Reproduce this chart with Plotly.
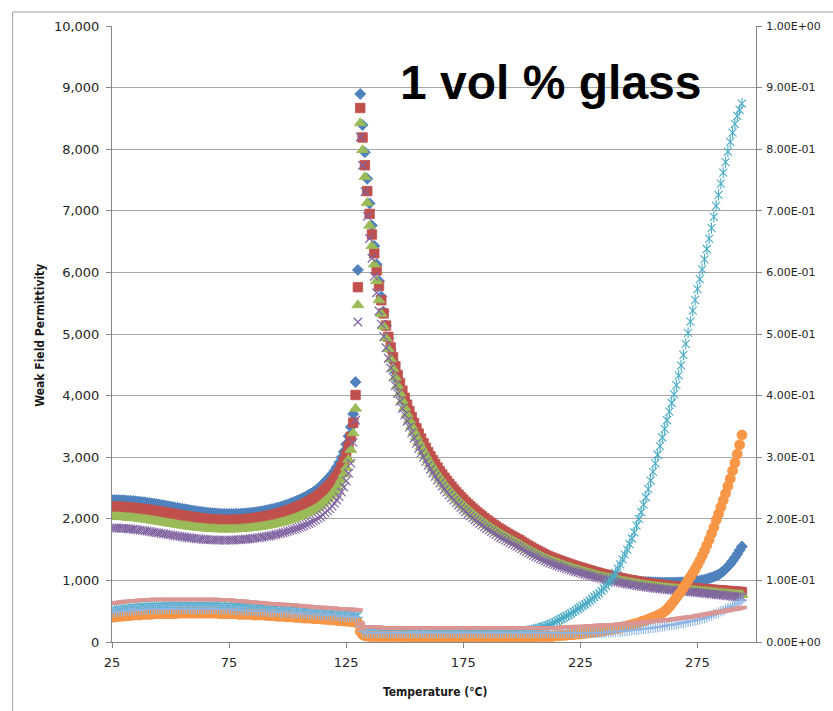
import plotly.graph_objects as go

# Measurement temperatures (deg C), one reading per degree
temperature_c = [
    25, 26, 27, 28, 29, 30, 31, 32, 33, 34,
    35, 36, 37, 38, 39, 40, 41, 42, 43, 44,
    45, 46, 47, 48, 49, 50, 51, 52, 53, 54,
    55, 56, 57, 58, 59, 60, 61, 62, 63, 64,
    65, 66, 67, 68, 69, 70, 71, 72, 73, 74,
    75, 76, 77, 78, 79, 80, 81, 82, 83, 84,
    85, 86, 87, 88, 89, 90, 91, 92, 93, 94,
    95, 96, 97, 98, 99, 100, 101, 102, 103, 104,
    105, 106, 107, 108, 109, 110, 111, 112, 113, 114,
    115, 116, 117, 118, 119, 120, 121, 122, 123, 124,
    125, 126, 127, 128, 129, 130, 131, 132, 133, 134,
    135, 136, 137, 138, 139, 140, 141, 142, 143, 144,
    145, 146, 147, 148, 149, 150, 151, 152, 153, 154,
    155, 156, 157, 158, 159, 160, 161, 162, 163, 164,
    165, 166, 167, 168, 169, 170, 171, 172, 173, 174,
    175, 176, 177, 178, 179, 180, 181, 182, 183, 184,
    185, 186, 187, 188, 189, 190, 191, 192, 193, 194,
    195, 196, 197, 198, 199, 200, 201, 202, 203, 204,
    205, 206, 207, 208, 209, 210, 211, 212, 213, 214,
    215, 216, 217, 218, 219, 220, 221, 222, 223, 224,
    225, 226, 227, 228, 229, 230, 231, 232, 233, 234,
    235, 236, 237, 238, 239, 240, 241, 242, 243, 244,
    245, 246, 247, 248, 249, 250, 251, 252, 253, 254,
    255, 256, 257, 258, 259, 260, 261, 262, 263, 264,
    265, 266, 267, 268, 269, 270, 271, 272, 273, 274,
    275, 276, 277, 278, 279, 280, 281, 282, 283, 284,
    285, 286, 287, 288, 289, 290, 291, 292, 293, 294,
]

# Weak field permittivity, four measurement frequencies (left axis)
perm_blue = [
    2305, 2305, 2304, 2303, 2302, 2300, 2297, 2294, 2291, 2288,
    2285, 2281, 2276, 2272, 2267, 2262, 2256, 2250, 2244, 2238,
    2232, 2225, 2218, 2211, 2205, 2198, 2191, 2184, 2177, 2170,
    2163, 2156, 2150, 2143, 2136, 2130, 2124, 2119, 2113, 2108,
    2103, 2099, 2095, 2091, 2088, 2085, 2083, 2081, 2080, 2079,
    2078, 2078, 2079, 2080, 2081, 2083, 2086, 2089, 2092, 2096,
    2100, 2105, 2111, 2117, 2123, 2130, 2138, 2146, 2155, 2164,
    2173, 2184, 2195, 2207, 2219, 2232, 2247, 2262, 2277, 2293,
    2310, 2328, 2347, 2367, 2388, 2410, 2434, 2460, 2490, 2523,
    2560, 2600, 2640, 2680, 2728, 2780, 2840, 2910, 2995, 3090,
    3210, 3340, 3490, 3700, 4220, 6040, 8896, 8393, 7950, 7520,
    7120, 6760, 6430, 6130, 5860, 5610, 5362, 5137, 4929, 4735,
    4554, 4385, 4247, 4119, 3997, 3884, 3776, 3674, 3577, 3485,
    3399, 3315, 3236, 3161, 3089, 3020, 2955, 2892, 2832, 2774,
    2719, 2666, 2614, 2565, 2518, 2472, 2427, 2384, 2343, 2304,
    2266, 2229, 2192, 2158, 2124, 2091, 2060, 2029, 1999, 1970,
    1941, 1915, 1887, 1862, 1837, 1812, 1789, 1765, 1742, 1721,
    1699, 1678, 1657, 1638, 1618, 1593, 1568, 1545, 1524, 1502,
    1482, 1462, 1443, 1423, 1404, 1386, 1367, 1352, 1338, 1323,
    1309, 1296, 1282, 1268, 1255, 1243, 1230, 1217, 1205, 1194,
    1182, 1170, 1159, 1149, 1138, 1127, 1116, 1105, 1096, 1086,
    1076, 1067, 1059, 1050, 1042, 1035, 1028, 1021, 1015, 1009,
    1004, 999, 995, 991, 987, 984, 981, 978, 976, 974,
    972, 970, 969, 968, 967, 966, 965, 965, 965, 965,
    966, 967, 968, 969, 971, 973, 975, 978, 981, 985,
    990, 996, 1003, 1012, 1022, 1034, 1047, 1061, 1077, 1094,
    1120, 1150, 1185, 1224, 1268, 1318, 1372, 1430, 1490, 1550,
]

perm_red = [
    2196, 2196, 2195, 2194, 2192, 2190, 2187, 2183, 2180, 2176,
    2172, 2167, 2163, 2158, 2153, 2148, 2142, 2136, 2130, 2124,
    2118, 2111, 2105, 2098, 2092, 2085, 2078, 2072, 2065, 2059,
    2052, 2046, 2040, 2034, 2028, 2022, 2017, 2012, 2007, 2002,
    1998, 1994, 1991, 1988, 1985, 1983, 1981, 1980, 1979, 1979,
    1979, 1980, 1981, 1982, 1984, 1986, 1989, 1992, 1996, 2000,
    2004, 2009, 2015, 2021, 2027, 2033, 2041, 2048, 2056, 2064,
    2073, 2083, 2094, 2104, 2116, 2128, 2142, 2156, 2170, 2185,
    2200, 2217, 2235, 2254, 2274, 2295, 2318, 2342, 2370, 2400,
    2435, 2470, 2507, 2545, 2590, 2640, 2697, 2760, 2840, 2930,
    3040, 3170, 3330, 3560, 4010, 5760, 8669, 8190, 7740, 7320,
    6950, 6615, 6310, 6032, 5779, 5548, 5335, 5137, 4954, 4783,
    4623, 4474, 4334, 4203, 4079, 3963, 3853, 3749, 3650, 3556,
    3468, 3383, 3302, 3226, 3152, 3082, 3015, 2951, 2890, 2831,
    2774, 2720, 2667, 2617, 2569, 2522, 2477, 2433, 2391, 2351,
    2312, 2274, 2237, 2202, 2167, 2134, 2102, 2070, 2040, 2010,
    1981, 1954, 1926, 1900, 1874, 1849, 1825, 1801, 1778, 1756,
    1734, 1712, 1691, 1671, 1651, 1625, 1600, 1577, 1555, 1533,
    1512, 1492, 1472, 1452, 1433, 1414, 1395, 1380, 1365, 1350,
    1336, 1322, 1308, 1294, 1281, 1268, 1255, 1242, 1230, 1218,
    1206, 1194, 1183, 1172, 1161, 1150, 1139, 1128, 1118, 1108,
    1098, 1089, 1080, 1071, 1062, 1053, 1045, 1037, 1029, 1021,
    1013, 1006, 999, 992, 985, 978, 972, 966, 960, 954,
    948, 943, 938, 933, 928, 924, 919, 915, 911, 907,
    903, 899, 895, 891, 887, 884, 880, 877, 873, 870,
    867, 864, 861, 858, 855, 852, 849, 846, 843, 840,
    837, 834, 831, 828, 825, 822, 819, 816, 813, 811,
]

perm_green = [
    2034, 2034, 2033, 2032, 2030, 2028, 2025, 2021, 2018, 2014,
    2010, 2005, 2000, 1995, 1990, 1985, 1979, 1973, 1967, 1961,
    1955, 1949, 1942, 1936, 1929, 1923, 1917, 1910, 1904, 1898,
    1892, 1886, 1881, 1875, 1870, 1865, 1861, 1857, 1853, 1849,
    1845, 1842, 1839, 1837, 1835, 1833, 1832, 1831, 1830, 1830,
    1830, 1831, 1832, 1833, 1835, 1837, 1840, 1843, 1847, 1851,
    1855, 1860, 1865, 1870, 1876, 1882, 1889, 1896, 1903, 1911,
    1920, 1929, 1939, 1949, 1960, 1972, 1985, 1998, 2011, 2025,
    2040, 2056, 2072, 2089, 2107, 2125, 2146, 2168, 2193, 2222,
    2255, 2288, 2322, 2360, 2402, 2450, 2505, 2565, 2640, 2725,
    2830, 2960, 3120, 3390, 3790, 5470, 8425, 7987, 7550, 7130,
    6760, 6430, 6130, 5860, 5548, 5326, 5122, 4932, 4756, 4592,
    4438, 4295, 4161, 4035, 3916, 3804, 3699, 3599, 3504, 3414,
    3329, 3248, 3170, 3097, 3026, 2959, 2894, 2833, 2774, 2718,
    2663, 2611, 2560, 2512, 2466, 2421, 2378, 2336, 2295, 2257,
    2220, 2183, 2148, 2114, 2080, 2049, 2018, 1987, 1958, 1930,
    1902, 1876, 1849, 1824, 1799, 1775, 1752, 1729, 1707, 1686,
    1665, 1644, 1623, 1604, 1585, 1560, 1536, 1514, 1493, 1472,
    1452, 1432, 1413, 1394, 1376, 1357, 1339, 1325, 1310, 1296,
    1283, 1269, 1256, 1242, 1230, 1217, 1205, 1192, 1181, 1169,
    1158, 1146, 1136, 1125, 1115, 1104, 1093, 1083, 1073, 1064,
    1054, 1045, 1037, 1028, 1020, 1011, 1003, 996, 988, 980,
    972, 966, 959, 952, 946, 939, 933, 927, 922, 916,
    910, 905, 900, 896, 891, 887, 882, 878, 875, 871,
    867, 863, 859, 855, 852, 849, 845, 841, 837, 834,
    830, 826, 823, 819, 815, 811, 807, 803, 800, 796,
    792, 789, 785, 782, 778, 775, 772, 769, 766, 764,
]

perm_purple = [
    1851, 1851, 1850, 1849, 1847, 1845, 1842, 1838, 1834, 1830,
    1826, 1821, 1816, 1811, 1806, 1800, 1794, 1788, 1782, 1776,
    1770, 1764, 1757, 1751, 1744, 1738, 1732, 1726, 1720, 1714,
    1708, 1702, 1697, 1692, 1687, 1682, 1678, 1674, 1670, 1667,
    1664, 1661, 1659, 1657, 1656, 1655, 1654, 1654, 1654, 1654,
    1654, 1655, 1656, 1658, 1660, 1662, 1665, 1668, 1672, 1676,
    1680, 1685, 1690, 1695, 1701, 1707, 1714, 1721, 1728, 1736,
    1745, 1754, 1763, 1773, 1784, 1795, 1807, 1819, 1832, 1846,
    1860, 1875, 1890, 1906, 1924, 1942, 1962, 1983, 2007, 2034,
    2065, 2096, 2129, 2165, 2205, 2250, 2302, 2360, 2432, 2515,
    2615, 2740, 2900, 3240, 3600, 5195, 8198, 7740, 7310, 6910,
    6550, 6230, 5935, 5670, 5374, 5160, 4962, 4777, 4607, 4448,
    4299, 4161, 4031, 3909, 3793, 3686, 3583, 3487, 3395, 3307,
    3225, 3146, 3071, 3000, 2931, 2866, 2804, 2744, 2688, 2633,
    2580, 2530, 2480, 2434, 2389, 2345, 2304, 2263, 2224, 2186,
    2150, 2115, 2080, 2048, 2015, 1985, 1955, 1925, 1897, 1869,
    1842, 1817, 1791, 1767, 1743, 1720, 1697, 1675, 1654, 1633,
    1613, 1592, 1573, 1554, 1535, 1511, 1488, 1467, 1446, 1426,
    1406, 1388, 1369, 1350, 1333, 1315, 1297, 1283, 1269, 1256,
    1242, 1229, 1216, 1203, 1191, 1179, 1167, 1155, 1144, 1133,
    1122, 1110, 1100, 1090, 1080, 1070, 1059, 1049, 1040, 1030,
    1021, 1013, 1004, 996, 988, 979, 972, 964, 957, 950,
    942, 936, 929, 923, 916, 910, 904, 898, 893, 887,
    882, 877, 872, 868, 863, 859, 855, 851, 847, 844,
    840, 836, 832, 829, 825, 822, 818, 815, 811, 807,
    803, 799, 795, 791, 787, 783, 779, 775, 771, 767,
    763, 759, 755, 751, 746, 742, 738, 734, 730, 728,
]

# Loss tangent, same four frequencies (right axis)
loss_cyan = [
    0.050, 0.051, 0.051, 0.052, 0.052, 0.053, 0.053, 0.054, 0.054, 0.055,
    0.055, 0.055, 0.056, 0.056, 0.056, 0.056, 0.057, 0.057, 0.057, 0.057,
    0.057, 0.057, 0.058, 0.058, 0.058, 0.058, 0.058, 0.058, 0.058, 0.058,
    0.058, 0.058, 0.058, 0.058, 0.058, 0.058, 0.058, 0.058, 0.058, 0.058,
    0.058, 0.058, 0.058, 0.058, 0.058, 0.058, 0.057, 0.057, 0.057, 0.057,
    0.057, 0.057, 0.057, 0.056, 0.056, 0.056, 0.056, 0.056, 0.055, 0.055,
    0.055, 0.055, 0.055, 0.054, 0.054, 0.054, 0.054, 0.053, 0.053, 0.053,
    0.053, 0.052, 0.052, 0.052, 0.052, 0.052, 0.051, 0.051, 0.051, 0.051,
    0.050, 0.050, 0.050, 0.050, 0.049, 0.049, 0.049, 0.049, 0.048, 0.048,
    0.048, 0.048, 0.047, 0.047, 0.047, 0.046, 0.046, 0.046, 0.045, 0.045,
    0.045, 0.044, 0.044, 0.044, 0.043, 0.043, 0.027, 0.019, 0.018, 0.018,
    0.018, 0.018, 0.018, 0.018, 0.018, 0.018, 0.017, 0.017, 0.017, 0.017,
    0.017, 0.017, 0.017, 0.017, 0.017, 0.017, 0.017, 0.017, 0.017, 0.017,
    0.017, 0.017, 0.017, 0.017, 0.017, 0.017, 0.016, 0.016, 0.016, 0.016,
    0.016, 0.016, 0.016, 0.016, 0.016, 0.016, 0.016, 0.016, 0.016, 0.016,
    0.016, 0.016, 0.016, 0.016, 0.016, 0.016, 0.016, 0.016, 0.016, 0.016,
    0.016, 0.016, 0.016, 0.016, 0.016, 0.016, 0.016, 0.016, 0.016, 0.016,
    0.016, 0.016, 0.016, 0.017, 0.017, 0.017, 0.017, 0.018, 0.018, 0.019,
    0.020, 0.021, 0.022, 0.023, 0.024, 0.025, 0.027, 0.028, 0.030, 0.032,
    0.034, 0.036, 0.038, 0.040, 0.042, 0.044, 0.046, 0.049, 0.051, 0.054,
    0.056, 0.059, 0.061, 0.064, 0.067, 0.070, 0.073, 0.076, 0.079, 0.083,
    0.087, 0.091, 0.096, 0.101, 0.106, 0.112, 0.119, 0.126, 0.134, 0.142,
    0.150, 0.159, 0.168, 0.178, 0.189, 0.200, 0.211, 0.223, 0.235, 0.248,
    0.262, 0.276, 0.290, 0.304, 0.318, 0.332, 0.346, 0.360, 0.374, 0.388,
    0.402, 0.417, 0.433, 0.449, 0.466, 0.484, 0.502, 0.520, 0.538, 0.555,
    0.573, 0.589, 0.605, 0.621, 0.638, 0.655, 0.672, 0.690, 0.708, 0.726,
    0.744, 0.762, 0.779, 0.796, 0.812, 0.827, 0.841, 0.854, 0.864, 0.874,
]

loss_orange = [
    0.040, 0.041, 0.041, 0.042, 0.042, 0.042, 0.043, 0.043, 0.043, 0.044,
    0.044, 0.044, 0.044, 0.045, 0.045, 0.045, 0.045, 0.045, 0.046, 0.046,
    0.046, 0.046, 0.046, 0.046, 0.046, 0.046, 0.046, 0.046, 0.047, 0.047,
    0.047, 0.047, 0.047, 0.047, 0.047, 0.047, 0.047, 0.047, 0.047, 0.047,
    0.047, 0.047, 0.047, 0.047, 0.047, 0.047, 0.046, 0.046, 0.046, 0.046,
    0.046, 0.046, 0.046, 0.046, 0.045, 0.045, 0.045, 0.045, 0.045, 0.045,
    0.044, 0.044, 0.044, 0.044, 0.044, 0.044, 0.043, 0.043, 0.043, 0.043,
    0.042, 0.042, 0.042, 0.042, 0.041, 0.041, 0.041, 0.041, 0.040, 0.040,
    0.040, 0.040, 0.039, 0.039, 0.039, 0.039, 0.038, 0.038, 0.038, 0.038,
    0.037, 0.037, 0.037, 0.036, 0.036, 0.036, 0.035, 0.035, 0.035, 0.034,
    0.034, 0.034, 0.033, 0.033, 0.032, 0.031, 0.017, 0.012, 0.010, 0.010,
    0.009, 0.009, 0.009, 0.009, 0.009, 0.009, 0.009, 0.009, 0.009, 0.009,
    0.009, 0.009, 0.009, 0.009, 0.009, 0.009, 0.008, 0.008, 0.008, 0.008,
    0.008, 0.008, 0.008, 0.008, 0.008, 0.008, 0.008, 0.008, 0.008, 0.008,
    0.008, 0.008, 0.008, 0.008, 0.008, 0.008, 0.008, 0.008, 0.008, 0.008,
    0.008, 0.008, 0.008, 0.008, 0.008, 0.008, 0.008, 0.008, 0.008, 0.008,
    0.008, 0.008, 0.008, 0.008, 0.008, 0.008, 0.008, 0.008, 0.008, 0.008,
    0.008, 0.008, 0.008, 0.008, 0.008, 0.008, 0.008, 0.008, 0.008, 0.008,
    0.008, 0.009, 0.009, 0.009, 0.009, 0.009, 0.009, 0.009, 0.009, 0.010,
    0.010, 0.010, 0.011, 0.011, 0.011, 0.012, 0.012, 0.012, 0.013, 0.013,
    0.013, 0.014, 0.014, 0.015, 0.015, 0.016, 0.016, 0.017, 0.017, 0.018,
    0.018, 0.019, 0.020, 0.020, 0.021, 0.022, 0.022, 0.023, 0.024, 0.025,
    0.026, 0.027, 0.028, 0.029, 0.030, 0.031, 0.033, 0.034, 0.035, 0.037,
    0.038, 0.040, 0.041, 0.043, 0.045, 0.047, 0.050, 0.053, 0.057, 0.062,
    0.067, 0.072, 0.077, 0.082, 0.088, 0.094, 0.100, 0.106, 0.112, 0.118,
    0.125, 0.132, 0.140, 0.148, 0.157, 0.166, 0.176, 0.186, 0.198, 0.208,
    0.219, 0.230, 0.241, 0.253, 0.265, 0.278, 0.291, 0.305, 0.320, 0.336,
]

loss_lightblue = [
    0.048, 0.049, 0.049, 0.050, 0.050, 0.050, 0.051, 0.051, 0.051, 0.052,
    0.052, 0.052, 0.052, 0.052, 0.053, 0.053, 0.053, 0.053, 0.053, 0.053,
    0.053, 0.053, 0.054, 0.054, 0.054, 0.054, 0.054, 0.054, 0.054, 0.054,
    0.054, 0.054, 0.054, 0.054, 0.054, 0.054, 0.054, 0.054, 0.054, 0.054,
    0.054, 0.054, 0.054, 0.054, 0.054, 0.054, 0.053, 0.053, 0.053, 0.053,
    0.053, 0.053, 0.052, 0.052, 0.052, 0.052, 0.052, 0.051, 0.051, 0.051,
    0.051, 0.051, 0.050, 0.050, 0.050, 0.050, 0.050, 0.049, 0.049, 0.049,
    0.049, 0.049, 0.048, 0.048, 0.048, 0.048, 0.048, 0.047, 0.047, 0.047,
    0.047, 0.046, 0.046, 0.046, 0.046, 0.045, 0.045, 0.045, 0.045, 0.044,
    0.044, 0.044, 0.044, 0.043, 0.043, 0.043, 0.043, 0.042, 0.042, 0.042,
    0.041, 0.041, 0.041, 0.041, 0.040, 0.040, 0.025, 0.017, 0.016, 0.015,
    0.015, 0.015, 0.015, 0.015, 0.015, 0.015, 0.015, 0.015, 0.015, 0.015,
    0.015, 0.015, 0.015, 0.015, 0.015, 0.015, 0.015, 0.015, 0.015, 0.015,
    0.015, 0.015, 0.015, 0.015, 0.015, 0.015, 0.015, 0.015, 0.015, 0.015,
    0.015, 0.015, 0.015, 0.015, 0.015, 0.015, 0.015, 0.015, 0.015, 0.015,
    0.015, 0.015, 0.015, 0.015, 0.015, 0.015, 0.015, 0.015, 0.015, 0.015,
    0.015, 0.015, 0.015, 0.015, 0.015, 0.015, 0.015, 0.015, 0.015, 0.015,
    0.015, 0.015, 0.015, 0.015, 0.015, 0.015, 0.015, 0.015, 0.015, 0.015,
    0.015, 0.015, 0.015, 0.015, 0.015, 0.015, 0.015, 0.015, 0.015, 0.015,
    0.015, 0.015, 0.015, 0.015, 0.015, 0.015, 0.015, 0.015, 0.015, 0.015,
    0.015, 0.015, 0.015, 0.015, 0.015, 0.015, 0.015, 0.015, 0.015, 0.015,
    0.015, 0.016, 0.016, 0.016, 0.016, 0.017, 0.017, 0.017, 0.018, 0.018,
    0.018, 0.019, 0.019, 0.020, 0.020, 0.020, 0.021, 0.021, 0.022, 0.022,
    0.023, 0.023, 0.024, 0.024, 0.025, 0.025, 0.026, 0.027, 0.027, 0.028,
    0.028, 0.029, 0.030, 0.031, 0.031, 0.032, 0.033, 0.034, 0.034, 0.035,
    0.036, 0.037, 0.038, 0.039, 0.040, 0.042, 0.043, 0.045, 0.046, 0.048,
    0.050, 0.051, 0.053, 0.055, 0.057, 0.058, 0.060, 0.062, 0.065, 0.068,
]

loss_pink = [
    0.063, 0.063, 0.064, 0.064, 0.065, 0.065, 0.066, 0.066, 0.066, 0.067,
    0.067, 0.067, 0.068, 0.068, 0.068, 0.068, 0.068, 0.069, 0.069, 0.069,
    0.069, 0.069, 0.069, 0.069, 0.069, 0.069, 0.069, 0.069, 0.069, 0.069,
    0.069, 0.069, 0.069, 0.069, 0.069, 0.069, 0.069, 0.069, 0.069, 0.069,
    0.069, 0.069, 0.069, 0.069, 0.069, 0.069, 0.068, 0.068, 0.068, 0.068,
    0.068, 0.068, 0.067, 0.067, 0.067, 0.066, 0.066, 0.066, 0.065, 0.065,
    0.065, 0.064, 0.064, 0.064, 0.063, 0.063, 0.063, 0.062, 0.062, 0.062,
    0.062, 0.061, 0.061, 0.061, 0.061, 0.060, 0.060, 0.060, 0.060, 0.059,
    0.059, 0.059, 0.058, 0.058, 0.058, 0.057, 0.057, 0.057, 0.056, 0.056,
    0.056, 0.056, 0.055, 0.055, 0.055, 0.055, 0.054, 0.054, 0.054, 0.054,
    0.053, 0.053, 0.053, 0.053, 0.052, 0.052, 0.030, 0.024, 0.024, 0.024,
    0.024, 0.024, 0.024, 0.024, 0.024, 0.023, 0.023, 0.023, 0.023, 0.023,
    0.023, 0.023, 0.023, 0.023, 0.023, 0.023, 0.023, 0.023, 0.023, 0.023,
    0.023, 0.023, 0.023, 0.023, 0.023, 0.023, 0.023, 0.023, 0.023, 0.023,
    0.023, 0.023, 0.023, 0.023, 0.023, 0.023, 0.023, 0.023, 0.023, 0.023,
    0.023, 0.023, 0.023, 0.023, 0.023, 0.023, 0.023, 0.023, 0.023, 0.023,
    0.023, 0.023, 0.023, 0.023, 0.023, 0.023, 0.023, 0.023, 0.023, 0.023,
    0.023, 0.023, 0.023, 0.023, 0.023, 0.023, 0.023, 0.023, 0.023, 0.023,
    0.023, 0.023, 0.023, 0.023, 0.023, 0.023, 0.023, 0.023, 0.023, 0.023,
    0.023, 0.023, 0.024, 0.024, 0.024, 0.024, 0.024, 0.025, 0.025, 0.025,
    0.025, 0.025, 0.025, 0.026, 0.026, 0.026, 0.026, 0.027, 0.027, 0.027,
    0.027, 0.027, 0.028, 0.028, 0.028, 0.028, 0.029, 0.029, 0.029, 0.030,
    0.030, 0.030, 0.030, 0.031, 0.031, 0.031, 0.032, 0.032, 0.033, 0.033,
    0.033, 0.034, 0.034, 0.034, 0.035, 0.035, 0.035, 0.036, 0.036, 0.037,
    0.037, 0.038, 0.038, 0.039, 0.039, 0.040, 0.040, 0.041, 0.041, 0.042,
    0.043, 0.043, 0.044, 0.045, 0.045, 0.046, 0.047, 0.047, 0.048, 0.049,
    0.049, 0.050, 0.051, 0.051, 0.052, 0.053, 0.053, 0.054, 0.055, 0.056,
]

x_ticks = [25, 75, 125, 175, 225, 275]
y2_ticks = [0.0, 0.1, 0.2, 0.3, 0.4, 0.5, 0.6, 0.7, 0.8, 0.9, 1.0]
y2_tick_text = ["0.00E+00", "1.00E-01", "2.00E-01", "3.00E-01", "4.00E-01",
                "5.00E-01", "6.00E-01", "7.00E-01", "8.00E-01", "9.00E-01",
                "1.00E+00"]

series = {
    "perm_blue": perm_blue, "perm_red": perm_red, "perm_green": perm_green,
    "perm_purple": perm_purple, "loss_cyan": loss_cyan,
    "loss_orange": loss_orange, "loss_lightblue": loss_lightblue,
    "loss_pink": loss_pink,
}
for name, vals in series.items():
    assert len(vals) == len(temperature_c), (name, len(vals))

fig = go.Figure()


def add(yvals, axis, symbol, size, color, line_w=0.0):
    fig.add_trace(go.Scatter(
        x=temperature_c, y=yvals, mode="markers", yaxis=axis,
        hoverinfo="skip", showlegend=False,
        marker=dict(symbol=symbol, size=size, color=color,
                    line=dict(width=line_w, color=color)),
    ))


# permittivity (left axis)
add(perm_blue, "y", "diamond", 8.5, "#4F81BD", 0.8)
add(perm_red, "y", "square", 9.5, "#C0504D", 0.8)
add(perm_green, "y", "triangle-up", 10.5, "#9BBB59", 0.8)
add(perm_purple, "y", "x-thin-open", 8.5, "#8064A2", 1.2)

# loss tangent (right axis); the star marker is an x with a vertical bar
add(loss_cyan, "y2", "x-thin-open", 8, "#4BACC6", 1.1)
add(loss_cyan, "y2", "line-ns-open", 8, "#4BACC6", 1.1)
add(loss_orange, "y2", "circle", 10, "#F79646", 0.8)
add(loss_lightblue, "y2", "cross-thin-open", 7.5, "#8DB4E2", 1.1)
add(loss_pink, "y2", "line-ew-open", 7, "#D99694", 3.5)

left_font = dict(family="DejaVu Sans, Verdana, sans-serif", size=13, color="#262626")
right_font = dict(family="DejaVu Sans, Verdana, sans-serif", size=11, color="#262626")
axis_grey = "#868686"

fig.update_layout(
    width=833, height=711, autosize=False,
    margin=dict(l=112, r=73, t=26, b=69),
    paper_bgcolor="white", plot_bgcolor="white",
    showlegend=False,
    xaxis=dict(
        range=[25, 300], tickmode="array", tickvals=x_ticks,
        showgrid=False, zeroline=False, showline=True, linecolor=axis_grey,
        linewidth=1, ticks="outside", ticklen=5, tickcolor=axis_grey,
        tickfont=left_font, ticklabelstandoff=3,
    ),
    yaxis=dict(
        range=[0, 10000], tickmode="linear", tick0=0, dtick=1000,
        tickformat=",d", showgrid=True, gridcolor="#A6A6A6", gridwidth=1,
        zeroline=False, showline=True, linecolor=axis_grey, linewidth=1,
        ticks="outside", ticklen=5, tickcolor=axis_grey, tickfont=left_font,
        ticklabelstandoff=4,
    ),
    yaxis2=dict(
        range=[0, 1], overlaying="y", side="right", tickmode="array",
        tickvals=y2_ticks, ticktext=y2_tick_text, showgrid=False,
        zeroline=False, showline=True, linecolor=axis_grey, linewidth=1,
        ticks="outside", ticklen=5, tickcolor=axis_grey, tickfont=right_font,
        ticklabelstandoff=2,
    ),
)

# chart frame (left and top edges)
frame = dict(type="line", xref="paper", yref="paper",
             line=dict(color="#A0A0A0", width=1))
fig.add_shape(x0=-0.1543, x1=1.2, y0=1.0227, y1=1.0227, **frame)
fig.add_shape(x0=-0.1543, x1=-0.1543, y0=-0.2, y1=1.0227, **frame)

title_font = dict(family="Liberation Sans Narrow, DejaVu Sans Condensed, Arial, sans-serif",
                  size=12, color="#1a1a1a", weight="bold")
fig.add_annotation(text="Weak Field Permittivity", textangle=-90,
                   xref="paper", yref="paper", x=-0.111, y=0.498,
                   xanchor="center", yanchor="middle",
                   showarrow=False, font=title_font)
fig.add_annotation(text="Temperature (\u00b0C)",
                   xref="paper", yref="paper", x=0.503, y=-0.081,
                   xanchor="center", yanchor="middle",
                   showarrow=False, font=title_font)
fig.add_annotation(text="1 vol % glass",
                   xref="paper", yref="paper", x=0.6806, y=0.9075,
                   xanchor="center", yanchor="middle",
                   showarrow=False,
                   font=dict(family="Liberation Sans, Arial, sans-serif",
                             size=48, color="black", weight="bold"))

fig.write_html("out.html")
